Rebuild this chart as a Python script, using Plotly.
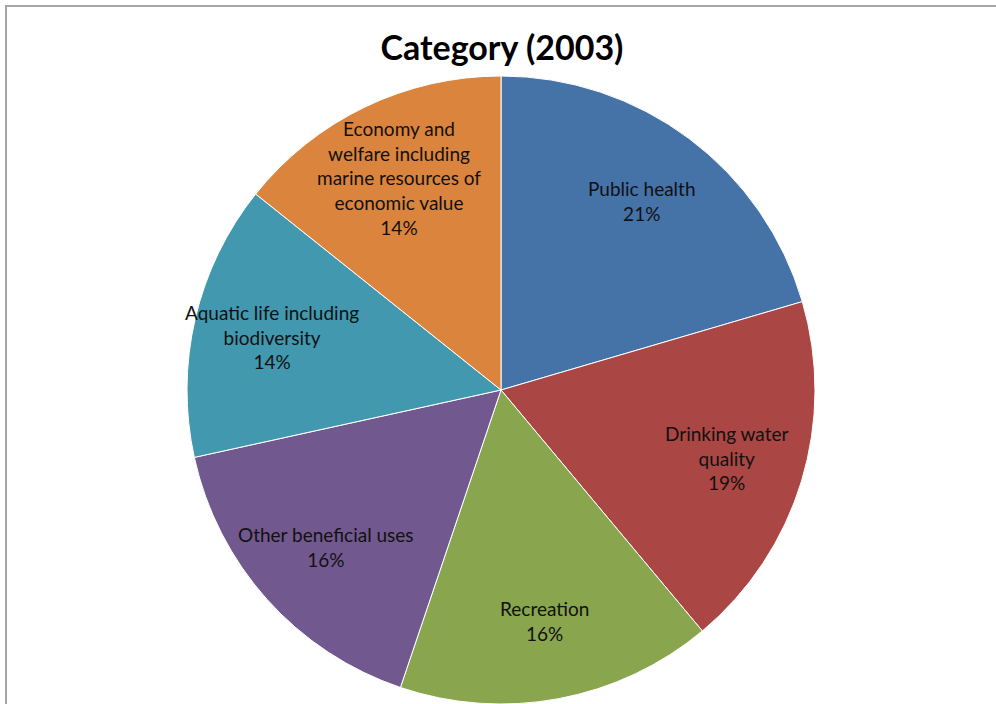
import math
import plotly.graph_objects as go

categories = ["Public health", "Drinking water quality", "Recreation",
              "Other beneficial uses", "Aquatic life including biodiversity",
              "Economy and welfare including marine resources of economic value"]
display_labels = ["Public health", "Drinking water<br>quality", "Recreation",
                  "Other beneficial uses", "Aquatic life including<br>biodiversity",
                  "Economy and<br>welfare including<br>marine resources of<br>economic value"]
# shares; percent labels as printed on the chart
values = [20.5, 18.5, 16.3, 16.4, 14.2, 14.3]
pct_labels = ["21%", "19%", "16%", "16%", "14%", "14%"]
colors = ["#4572A7", "#AA4643", "#89A54E", "#71588F", "#4198AF", "#DB843D"]

W, H = 996, 704
dom_x = [187 / W, 815 / W]
dom_y = [0.0, 628 / H]

fig = go.Figure(go.Pie(
    labels=categories,
    values=values,
    sort=False,
    direction="clockwise",
    rotation=0,
    marker=dict(colors=colors, line=dict(color="white", width=1)),
    textinfo="none",
    domain=dict(x=dom_x, y=dom_y),
    showlegend=False,
    hoverinfo="label+percent",
))

# label placement derived from the slice angles (clockwise from 12 o'clock)
cx_px = (dom_x[0] + dom_x[1]) / 2 * W
cy_px = (dom_y[0] + dom_y[1]) / 2 * H
r_px = min((dom_x[1] - dom_x[0]) * W, (dom_y[1] - dom_y[0]) * H) / 2
label_r = 0.75 * r_px
total = sum(values)
cum = 0.0
annotations = []
for lab, pct, v in zip(display_labels, pct_labels, values):
    mid = cum + v / 2
    cum += v
    ang = math.radians(90 - 360 * mid / total)
    x_px = cx_px + label_r * math.cos(ang)
    y_px = cy_px + label_r * math.sin(ang)
    annotations.append(dict(
        x=x_px / W, y=y_px / H, xref="paper", yref="paper",
        text=f"{lab}<br>{pct}", showarrow=False, align="center",
        xanchor="center", yanchor="middle",
        font=dict(family="Lato", size=19, color="#111111"),
    ))

fig.update_layout(
    width=W, height=H,
    margin=dict(l=0, r=0, t=0, b=0),
    paper_bgcolor="white",
    title=dict(text="<b>Category (2003)</b>", x=0.504, xanchor="center",
               y=1 - 48 / H, yanchor="middle",
               font=dict(family="Lato", size=34, color="black")),
    annotations=annotations,
    shapes=[dict(type="rect", xref="paper", yref="paper",
                 x0=6 / W, x1=1.02, y0=-0.02, y1=1 - 6 / H,
                 line=dict(color="#A6A6A6", width=2), fillcolor="rgba(0,0,0,0)",
                 layer="below")],
)

fig.write_html("out.html")
